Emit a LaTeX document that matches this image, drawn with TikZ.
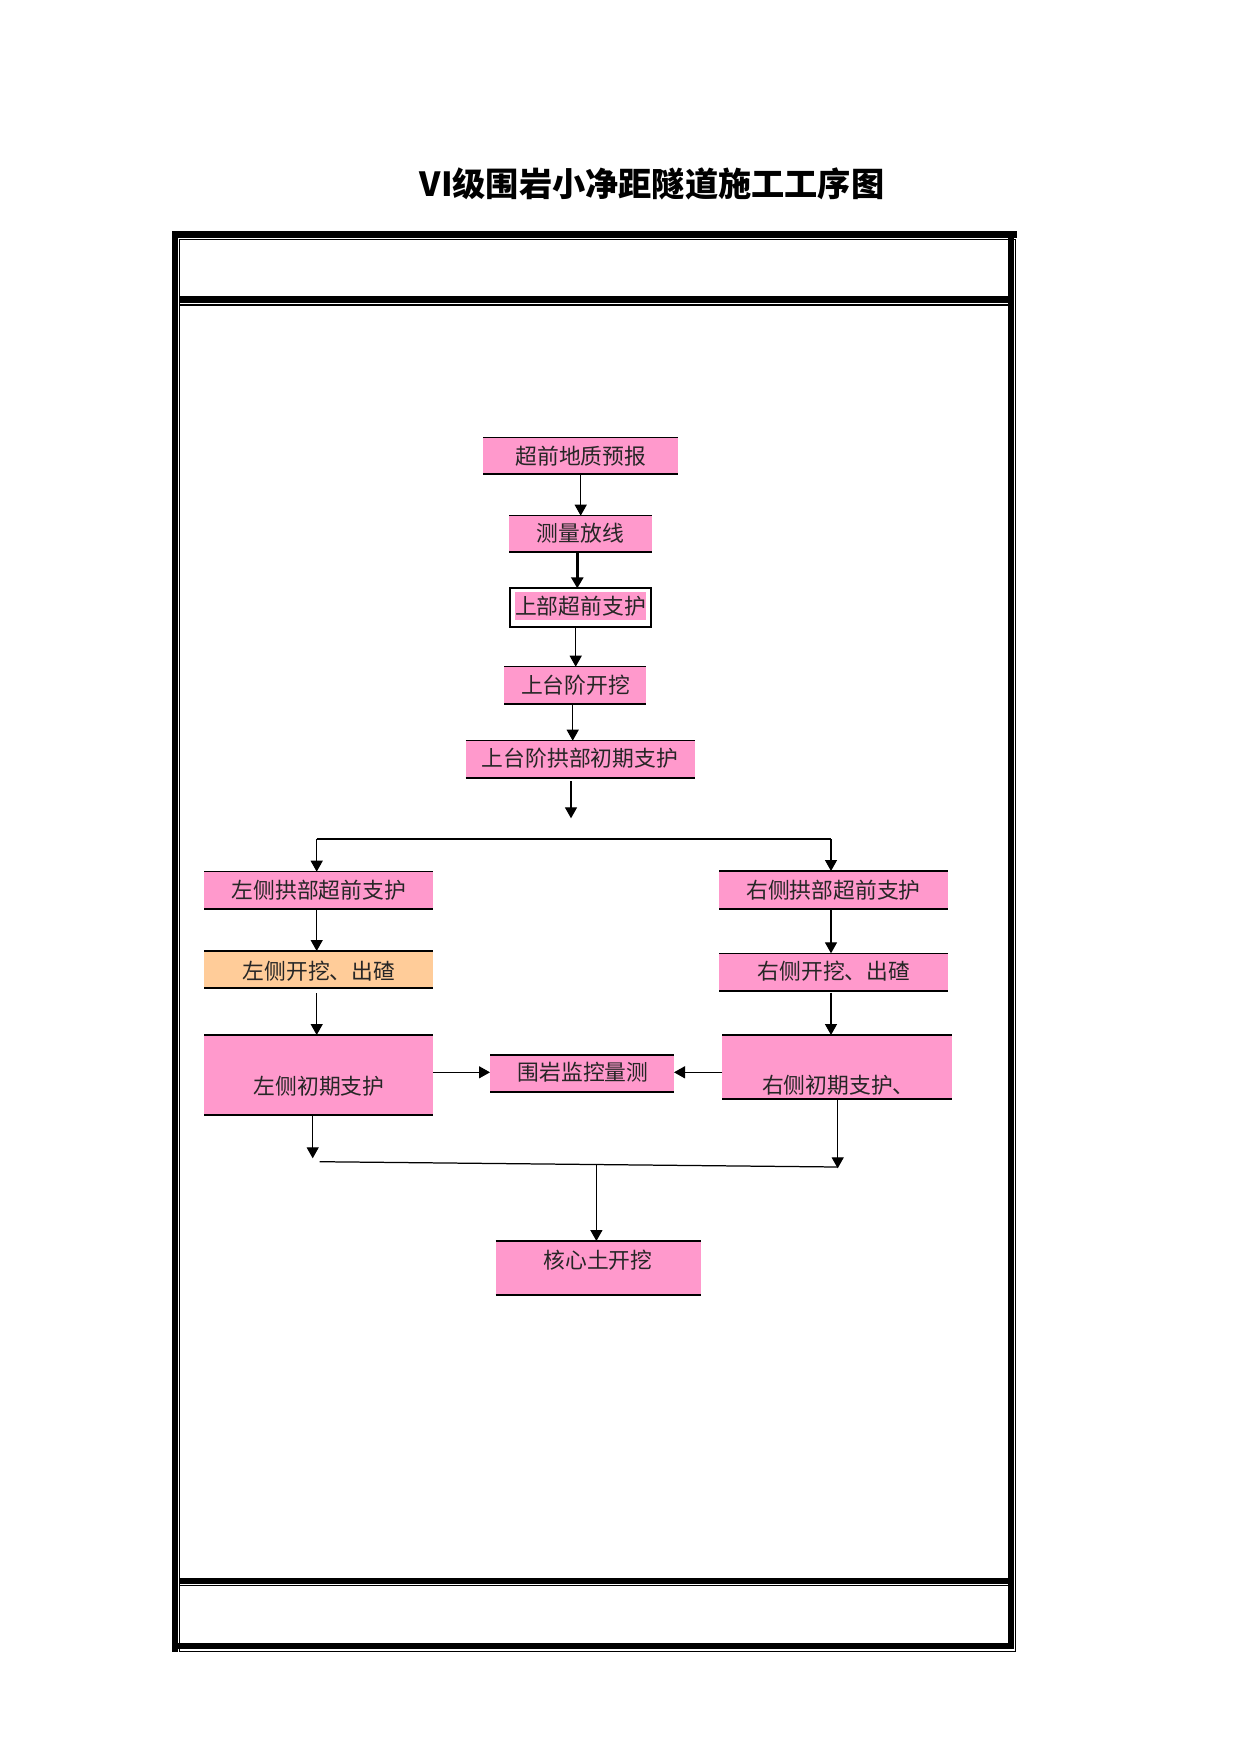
\documentclass[tikz,border=0pt]{standalone}
\usepackage{fontspec}
\newfontfamily\cjk{Noto Sans CJK SC}
\usetikzlibrary{arrows.meta,fit,calc}
\definecolor{pinkc}{HTML}{FF99CC}
\definecolor{orangec}{HTML}{FFCC99}
\newcommand\pbox[6]{%
  \node[fit={(#3,#4)(#5,#6)}, inner sep=0pt, outer sep=0pt, fill=#1] (#2) {};
  \draw[topl] (#2.north west) -- (#2.north east);
  \draw[botl] (#2.south west) -- (#2.south east);}
\begin{document}
\begin{tikzpicture}[x=0.48181pt,y=-0.48181pt,
  arr/.style={line width=0.6pt,-{Triangle[length=5.3pt,width=5.8pt]}},
  ln/.style={line width=0.6pt},
  txt/.style={font=\cjk\fontsize{10.5pt}{12pt}\selectfont, text=black!85, inner sep=0pt},
  topl/.style={line width=0.55pt},
  botl/.style={line width=0.8pt},
  thin/.style={line width=0.5pt}]
\useasboundingbox (0,0) rectangle (1241,1754);

% title
\node[font=\cjk\bfseries\fontsize{16pt}{19pt}\selectfont, inner sep=0pt] (title) at (652,183.5) {VI级围岩小净距隧道施工工序图};

% frame (thick-thin double border)
\fill (172,231) rectangle (1016.7,238);
\fill (172,231) rectangle (178,1651.5);
\fill (1008.3,231) rectangle (1014,1649.3);
\fill (172,1642.7) rectangle (1014,1649.3);
\draw[thin] (179.8,239.8) rectangle (1015.4,1651);
% header row separator
\fill (180,295.7) rectangle (1008.3,302.7);
\draw[thin] (180,305) -- (1008.3,305);
% footer row separator
\fill (180,1578.3) rectangle (1008.3,1584);
\draw[thin] (180,1585.8) -- (1008.3,1585.8);

% central column
\pbox{pinkc}{b1}{483.3}{437.3}{678.3}{474.3}
\node[txt] at (580.8,456) {超前地质预报};
\pbox{pinkc}{b2}{509.3}{515.7}{651.7}{552.3}
\node[txt] at (580.5,533.5) {测量放线};
\node[fit={(510.3,588.3)(650.7,626.7)}, inner sep=0pt, outer sep=0pt, draw, line width=0.8pt] (b3) {};
\fill[pinkc] (515,592.3) rectangle (645.7,620);
\node[txt] at (580.5,606.5) {上部超前支护};
\pbox{pinkc}{b4}{504.3}{666.7}{646}{704}
\node[txt] at (575.5,685) {上台阶开挖};
\pbox{pinkc}{b5}{465.7}{740.7}{695}{777.7}
\node[txt] at (580,758.5) {上台阶拱部初期支护};

\draw[arr] (b1.south -| 580.7,0) -- (b2.north -| 580.7,0);
\draw[arr, line width=1.3pt] (b2.south -| 577.3,0) -- (b3.north -| 577.3,0);
\draw[arr] (b3.south -| 575.7,0) -- (b4.north -| 575.7,0);
\draw[arr] (b4.south -| 572.7,0) -- (b5.north -| 572.7,0);
\coordinate (a5s) at (571,781);
\coordinate (a5e) at (571,818.3);
\draw[arr] (a5s) -- (a5e);

% left column
\pbox{pinkc}{L1}{204.3}{871.7}{433.3}{909}
\node[txt] at (318.8,890) {左侧拱部超前支护};
\pbox{orangec}{L2}{204.3}{951}{433.3}{987.7}
\node[txt] at (319,971.5) {左侧开挖、出碴};
\pbox{pinkc}{L3}{204.3}{1035}{433.3}{1115}
\node[txt] at (319,1086) {左侧初期支护};

% right column
\pbox{pinkc}{R1}{719.3}{871}{948.3}{909}
\node[txt] at (833.5,890) {右侧拱部超前支护};
\pbox{pinkc}{R2}{719.3}{953.3}{948.3}{990.7}
\node[txt] at (834,971.5) {右侧开挖、出碴};
\pbox{pinkc}{R3}{722.3}{1035}{952.3}{1099.3}
\node[txt, anchor=west] at (761.7,1085) {右侧初期支护、};

% middle
\pbox{pinkc}{M}{490}{1055}{674}{1092.3}
\node[txt] at (583,1072) {围岩监控量测};

% core
\pbox{pinkc}{C}{495.7}{1241}{700.7}{1295}
\node[txt] at (598,1260) {核心土开挖};

% branch
\coordinate (brl) at (316.7,839);
\coordinate (brr) at (831,839);
\draw[ln] (brl) -- (brr);
\draw[arr] (brl) -- (brl |- L1.north);
\draw[arr] (brr) -- (brr |- R1.north);

\draw[arr] (L1.south -| 316.7,0) -- (L2.north -| 316.7,0);
\draw[arr] (316.7,993.3) -- (L3.north -| 316.7,0);
\draw[arr] (R1.south -| 831,0) -- (R2.north -| 831,0);
\draw[arr] (831,992.7) -- (R3.north -| 831,0);

\draw[arr] (L3.east |- 0,1072.3) -- (M.west |- 0,1072.3);
\draw[arr] (R3.west |- 0,1072.3) -- (M.east |- 0,1072.3);

% merge
\coordinate (ml) at (312.7,1158.3);
\coordinate (mr) at (837.7,1168.3);
\draw[arr] (L3.south -| ml) -- (ml);
\draw[arr] (R3.south -| mr) -- (mr);
\coordinate (jl) at (319.6,1161.7);
\coordinate (jr) at (837.5,1167);
\draw[ln] (jl) -- (jr);
\coordinate (jm) at (596.4,1164.5);
\draw[arr] (jm) -- (jm |- C.north);
\end{tikzpicture}
\end{document}
